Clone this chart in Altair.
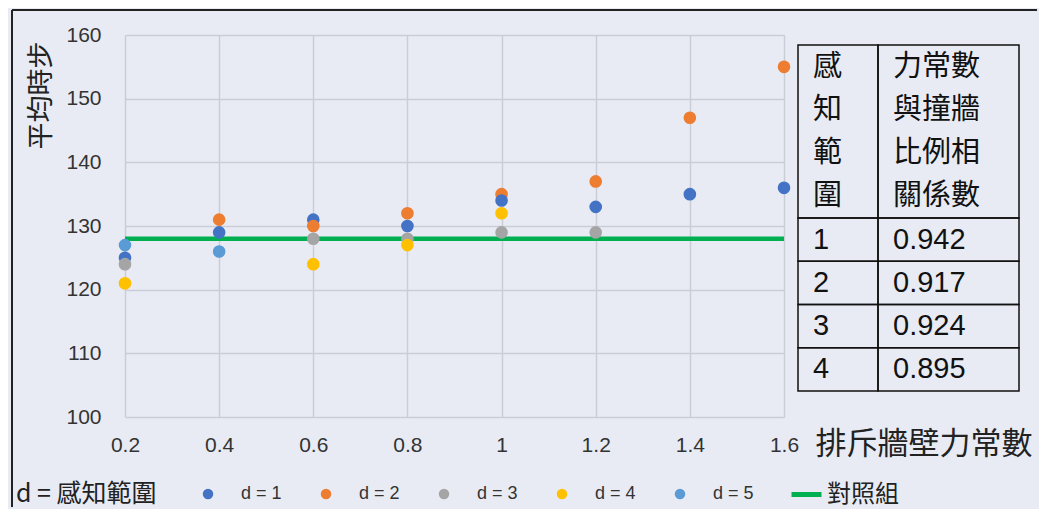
import altair as alt
import pandas as pd

# ---------------- data ----------------
x_vals = [0.2, 0.4, 0.6, 0.8, 1.0, 1.2, 1.4, 1.6]
d1 = [125, 129, 131, 130, 134, 133, 135, 136]
d2 = [None, 131, 130, 132, 135, 137, 147, 155]
d3 = [124, None, 128, 128, 129, 129]
d4 = [121, None, 124, 127, 132]
d5 = [127, 126]
series_names = ["d = 1", "d = 2", "d = 3", "d = 4", "d = 5"]
series_colors = ["#4472C4", "#ED7D31", "#A5A5A5", "#FFC000", "#5B9BD5"]
control_name = "對照組"
control_value = 128
control_color = "#00B050"

x_ticks = [0.2, 0.4, 0.6, 0.8, 1, 1.2, 1.4, 1.6]
y_ticks = [100, 110, 120, 130, 140, 150, 160]

table_head_1 = ["感", "知", "範", "圍"]
table_head_2 = ["力常數", "與撞牆", "比例相", "關係數"]
table_range = ["1", "2", "3", "4"]
table_corr = ["0.942", "0.917", "0.924", "0.895"]

CJK = "Noto Sans CJK TC"
LAT = "Liberation Sans"
BG = "#e8ebf4"
GRID = "#c9cdd6"

# ---------------- scatter ----------------
rows = []
for name, ys in zip(series_names, [d1, d2, d3, d4, d5]):
    for xv, yv in zip(x_vals, ys):
        if yv is not None:
            rows.append({"x": xv, "y": yv, "series": name})
pts = pd.DataFrame(rows)
ctrl = pd.DataFrame({"x": [x_vals[0], x_vals[-1]], "y": [control_value] * 2,
                     "series": [control_name] * 2})

xscale = alt.Scale(domain=[0.2, 1.6], nice=False, zero=False)
yscale = alt.Scale(domain=[100, 160], nice=False, zero=False)

x_axis = alt.Axis(values=x_ticks, format="~g", grid=True, ticks=False, domain=False,
                  labelFlush=False,
                  labelPadding=17, labelFontSize=21, labelFont=LAT, labelColor="#333333",
                  gridColor=GRID, gridWidth=1.5,
                  title="排斥牆壁力常數", titleFont=CJK, titleFontSize=31,
                  titleFontWeight="normal", titleColor="#222222",
                  titleX=690, titleY=27, titleAlign="left", titleBaseline="middle")
y_axis = alt.Axis(values=y_ticks, grid=True, ticks=False, domain=False,
                  labelPadding=24, labelFontSize=21, labelFont=LAT, labelColor="#333333",
                  gridColor=GRID, gridWidth=1.5,
                  title="平均時步", titleFont=CJK, titleFontSize=27,
                  titleFontWeight="normal", titleColor="#222222",
                  titleAngle=270, titleX=-84, titleY=6, titleAlign="right",
                  titleBaseline="middle")

line = alt.Chart(ctrl).mark_line(strokeWidth=4.5).encode(
    x=alt.X("x:Q", scale=xscale, axis=x_axis),
    y=alt.Y("y:Q", scale=yscale, axis=y_axis),
    stroke=alt.Stroke("series:N",
                      scale=alt.Scale(domain=[control_name], range=[control_color]),
                      legend=alt.Legend(title=None, orient="none", legendX=664, legendY=442,
                                        symbolType="stroke", symbolStrokeWidth=5,
                                        symbolSize=900, labelFont=CJK, labelFontSize=24,
                                        labelColor="#222222", labelOffset=3)),
)

points = alt.Chart(pts).mark_circle(size=160, opacity=1).encode(
    x=alt.X("x:Q", scale=xscale),
    y=alt.Y("y:Q", scale=yscale),
    color=alt.Color("series:N",
                    scale=alt.Scale(domain=series_names, range=series_colors),
                    legend=alt.Legend(title="d = 感知範圍", orient="none",
                                      legendX=-109, legendY=450,
                                      direction="horizontal", titleOrient="left",
                                      titleFont=CJK, titleFontSize=25,
                                      titleFontWeight="normal", titleColor="#222222",
                                      titlePadding=42, titleBaseline="middle",
                                      labelFont=LAT, labelFontSize=18, labelColor="#333333",
                                      symbolType="circle", symbolSize=110,
                                      labelOffset=24, columnPadding=35)),
    order=alt.Order("y:Q", sort="descending"),
)

frame_top = alt.Chart(ctrl).mark_rule(color="#222222", strokeWidth=2).encode(
    x=alt.value(-113), x2=alt.value(912), y=alt.value(-25))
frame_left = alt.Chart(ctrl).mark_rule(color="#222222", strokeWidth=2).encode(
    x=alt.value(-113), y=alt.value(-25), y2=alt.value(472))

scatter = alt.layer(frame_top, frame_left, line, points).properties(width=659, height=382)

# ---------------- table ----------------
COL1_W, COL2_W = 80, 141
n_head = len(table_head_1)
n_rows = n_head + len(table_range)

cells = [{"x0": 0, "x1": COL1_W, "y0": 0, "y1": n_head},
         {"x0": COL1_W, "x1": COL1_W + COL2_W, "y0": 0, "y1": n_head}]
for i in range(len(table_range)):
    cells.append({"x0": 0, "x1": COL1_W, "y0": n_head + i, "y1": n_head + i + 1})
    cells.append({"x0": COL1_W, "x1": COL1_W + COL2_W, "y0": n_head + i, "y1": n_head + i + 1})
cells = pd.DataFrame(cells)

head_txt = []
for i, (a, b) in enumerate(zip(table_head_1, table_head_2)):
    head_txt.append({"tx": 0, "ty": i + 0.5, "label": a})
    head_txt.append({"tx": COL1_W, "ty": i + 0.5, "label": b})
head_txt = pd.DataFrame(head_txt)

num_txt = []
for i, (a, b) in enumerate(zip(table_range, table_corr)):
    num_txt.append({"tx": 0, "ty": n_head + i + 0.5, "label": a})
    num_txt.append({"tx": COL1_W, "ty": n_head + i + 0.5, "label": b})
num_txt = pd.DataFrame(num_txt)

tx_scale = alt.Scale(domain=[0, COL1_W + COL2_W], nice=False, zero=False)
ty_scale = alt.Scale(domain=[0, n_rows], range=[10, 356], nice=False, zero=False)

t_rect = alt.Chart(cells).mark_rect(fillOpacity=0, stroke="#111111", strokeWidth=1.5).encode(
    x=alt.X("x0:Q", scale=tx_scale, axis=None), x2="x1:Q",
    y=alt.Y("y0:Q", scale=ty_scale, axis=None), y2="y1:Q")
t_head = alt.Chart(head_txt).mark_text(align="left", baseline="middle", dx=15,
                                       font=CJK, fontSize=29, color="#111111").encode(
    x=alt.X("tx:Q", scale=tx_scale, axis=None),
    y=alt.Y("ty:Q", scale=ty_scale, axis=None), text="label:N")
t_num = alt.Chart(num_txt).mark_text(align="left", baseline="middle", dx=15,
                                     font=LAT, fontSize=29, color="#111111").encode(
    x=alt.X("tx:Q", scale=tx_scale, axis=None),
    y=alt.Y("ty:Q", scale=ty_scale, axis=None), text="label:N")

table = alt.layer(t_rect, t_head, t_num).properties(width=COL1_W + COL2_W, height=356)

chart = alt.hconcat(scatter, table, spacing=14, bounds="flush").properties(
    background=BG,
    padding={"left": 2, "top": 0, "right": 0, "bottom": 0},
).configure_view(stroke="transparent").configure_concat(spacing=14)

chart.save("out.html", embed_options={"renderer": "svg", "actions": False})
